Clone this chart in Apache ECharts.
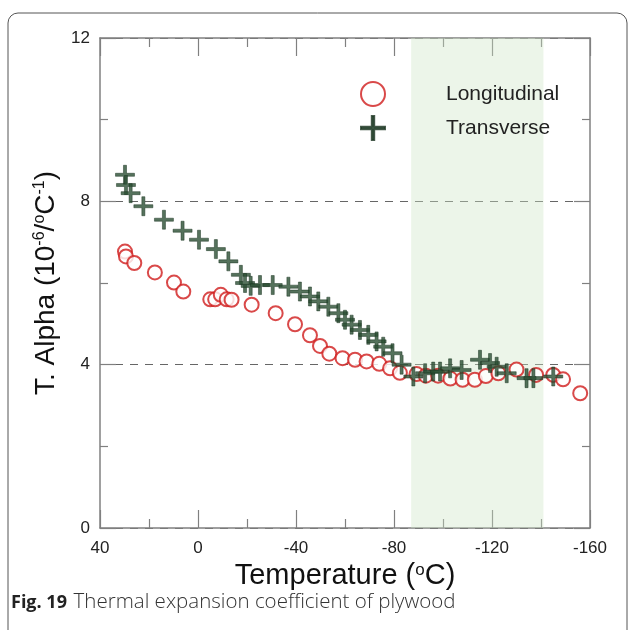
<!DOCTYPE html>
<html>
<head>
<meta charset="utf-8">
<script src="https://cdn.jsdelivr.net/npm/echarts@6/dist/echarts.min.js"></script>
<style>
  html, body { margin: 0; padding: 0; background: #fff; }
  #chart { width: 630px; height: 630px; }
</style>
</head>
<body>
<div id="chart"></div>
<script>
// temperature (oC) and T. alpha (10^-6 /oC)
let longTemp = [29.8, 29.4, 26, 17.6, 9.8, 6, -5, -7, -9.3, -11.7, -13.7, -21.9, -31.7, -39.6, -45.7, -49.8, -53.6, -59, -64.1, -68.8, -74, -78.4, -82.4, -89.2, -93, -98, -103, -108, -113, -117.5, -122.6, -130, -138, -145, -149, -156];
let longAlpha = [6.77, 6.65, 6.49, 6.26, 6.01, 5.79, 5.6, 5.6, 5.71, 5.6, 5.59, 5.47, 5.26, 4.99, 4.72, 4.46, 4.27, 4.16, 4.12, 4.08, 4.02, 3.91, 3.8, 3.77, 3.73, 3.73, 3.66, 3.63, 3.63, 3.72, 3.79, 3.88, 3.75, 3.75, 3.64, 3.3];

let transTemp = [29.8, 29.4, 27.5, 22.3, 13.9, 6.3, -0.4, -7.3, -12.4, -17.5, -19.2, -21.5, -25.3, -30.5, -36.9, -41.6, -45.7, -49.1, -53.2, -57.3, -60, -62.7, -66.1, -69.5, -72.9, -75.6, -79.4, -83.1, -87.9, -92.7, -96, -98.8, -102.9, -107.6, -115.1, -119.2, -121.9, -126, -134.1, -136.9, -145];
let transAlpha = [8.65, 8.4, 8.2, 7.88, 7.55, 7.28, 7.06, 6.83, 6.53, 6.2, 6.0, 5.93, 5.95, 5.95, 5.91, 5.79, 5.67, 5.55, 5.42, 5.26, 5.1, 4.98, 4.85, 4.73, 4.57, 4.44, 4.28, 4.0, 3.71, 3.79, 3.83, 3.83, 3.91, 3.87, 4.12, 4.04, 3.95, 3.79, 3.67, 3.67, 3.71];

let bandRange = [-87, -141];   // shaded region

let chartDom = document.getElementById('chart');
let myChart = echarts.init(chartDom);

let longData = longTemp.map((t, i) => [t, longAlpha[i]]);
let transData = transTemp.map((t, i) => [t, transAlpha[i]]);

let frameColor = '#808080';
let font = 'Liberation Sans, Arial, sans-serif';

let plusPath = 'path://M42,0H58V42H100V58H58V100H42V58H0V42H42Z';
let thinPlus = 'path://M45,0H55V45H100V55H55V100H45V55H0V45H45Z';   // legend icon

let option = {
    backgroundColor: '#fff',
    animation: false,
    grid: { left: 100, right: 40, top: 38, bottom: 102 },
    legend: {
        orient: 'vertical',
        left: 355,
        top: 76,
        itemWidth: 24,
        itemHeight: 24,
        itemGap: 8,
        textStyle: { fontSize: 21, color: '#222', fontFamily: font, padding: [0, 0, 0, 56] },
        data: [
            { name: 'Longitudinal', icon: 'emptyCircle' },
            { name: 'Transverse', icon: thinPlus }
        ]
    },
    xAxis: [
        {
            type: 'value', inverse: true, min: -160, max: 40, interval: 40,
            name: 'Temperature ({s|o}C)', nameLocation: 'middle', nameGap: 31,
            nameTextStyle: {
                fontSize: 29, color: '#111', fontFamily: font,
                rich: { s: { fontSize: 17, color: '#111', fontFamily: font, padding: [0, 0, 12, 0] } }
            },
            axisLine: { onZero: false, lineStyle: { color: frameColor, width: 1.5 } },
            axisTick: { inside: true, length: 18, lineStyle: { color: frameColor, width: 1.2 } },
            minorTick: { show: true, splitNumber: 2, length: 9, lineStyle: { color: frameColor, width: 1.2 } },
            axisLabel: { fontSize: 17, color: '#222', fontFamily: font, margin: 12 },
            splitLine: { show: false }
        },
        {
            type: 'value', inverse: true, min: -160, max: 40, interval: 40, position: 'top',
            axisLine: { onZero: false, lineStyle: { color: frameColor, width: 1.5 } },
            axisTick: { inside: true, length: 18, lineStyle: { color: frameColor, width: 1.2 } },
            minorTick: { show: true, splitNumber: 2, length: 9, lineStyle: { color: frameColor, width: 1.2 } },
            axisLabel: { show: false },
            splitLine: { show: false }
        }
    ],
    yAxis: [
        {
            type: 'value', min: 0, max: 12, interval: 4,
            name: 'T. Alpha (10{s|-6}/{s|o}C{s|-1})', nameLocation: 'middle', nameGap: 33,
            nameTextStyle: {
                fontSize: 28, color: '#111', fontFamily: font,
                rich: { s: { fontSize: 16, color: '#111', fontFamily: font, padding: [0, 0, 13, 0] } }
            },
            axisLine: { onZero: false, lineStyle: { color: frameColor, width: 1.5 } },
            axisTick: { inside: true, length: 16, lineStyle: { color: frameColor, width: 1.2 } },
            minorTick: { show: true, splitNumber: 2, length: 8, lineStyle: { color: frameColor, width: 1.2 } },
            axisLabel: { fontSize: 17, color: '#222', fontFamily: font, margin: 10 },
            splitLine: { show: true, lineStyle: { color: '#666', type: [8, 7], width: 1.2 } }
        },
        {
            type: 'value', min: 0, max: 12, interval: 4, position: 'right',
            axisLine: { onZero: false, lineStyle: { color: frameColor, width: 1.5 } },
            axisTick: { inside: true, length: 16, lineStyle: { color: frameColor, width: 1.2 } },
            minorTick: { show: true, splitNumber: 2, length: 8, lineStyle: { color: frameColor, width: 1.2 } },
            axisLabel: { show: false },
            splitLine: { show: false }
        }
    ],
    series: [
        {
            name: 'Longitudinal',
            type: 'scatter',
            data: longData,
            symbol: 'emptyCircle',
            symbolSize: 14,
            itemStyle: { color: '#d01c1c', borderColor: '#d01c1c', borderWidth: 1.8 },
            markArea: {
                silent: true,
                itemStyle: { color: 'rgba(204,229,196,0.38)' },
                data: [[{ xAxis: bandRange[0] }, { xAxis: bandRange[1] }]]
            },
            z: 3
        },
        {
            name: 'Transverse',
            type: 'scatter',
            data: transData,
            symbol: plusPath,
            symbolSize: 19,
            itemStyle: { color: '#2b4f33', borderColor: '#1a3320', borderWidth: 0.6 },
            z: 4
        }
    ],
    graphic: [
        {
            type: 'rect', silent: true, z: -1,
            shape: { x: 8, y: 13, width: 619, height: 640, r: 10 },
            style: { fill: 'none', stroke: '#555', lineWidth: 1 }
        },
        {
            type: 'text', left: 11, top: 592,
            style: {
                text: '{b|Fig. 19}  {n|Thermal expansion coefficient of plywood}',
                rich: {
                    b: { fontSize: 18, fontWeight: 'bold', fontFamily: 'Open Sans, sans-serif', fill: '#222' },
                    n: { fontSize: 20.5, fontWeight: 300, fontFamily: 'Open Sans, sans-serif', fill: '#333' }
                }
            }
        }
    ]
};

option && myChart.setOption(option);
</script>
</body>
</html>
